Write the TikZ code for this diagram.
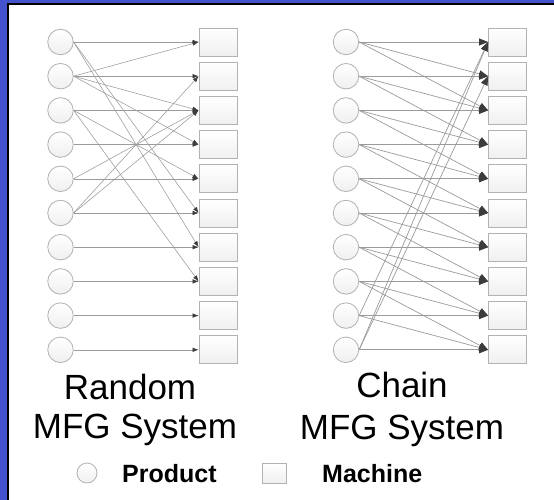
\documentclass[tikz,border=0pt]{standalone}
\usepackage{fontspec}
\setmainfont{Liberation Sans}
\usetikzlibrary{arrows.meta}

\definecolor{slideblue}{RGB}{68,82,206}
\definecolor{edgegray}{RGB}{155,155,155}
\definecolor{tipgray}{RGB}{60,60,60}

\tikzset{
  product/.style={circle, draw=gray!60, line width=0.8pt, top color=white,
    bottom color=gray!12, minimum size=25.5pt, inner sep=0pt},
  machine/.style={rectangle, draw=gray!60, line width=0.8pt, top color=white,
    bottom color=gray!12, minimum width=38pt, minimum height=28pt, inner sep=0pt},
  rndlink/.style={draw=edgegray, line width=0.55pt,
    -{Latex[length=6pt,width=4.5pt,color=tipgray]}},
  chnlink/.style={draw=edgegray, line width=0.7pt,
    -{Triangle[length=9pt,width=7pt,color=tipgray]}},
  title/.style={font=\fontsize{35}{40}\selectfont, inner sep=0pt},
  legend/.style={font=\fontsize{25}{30}\selectfont\bfseries, inner sep=0pt}
}

\begin{document}
\begin{tikzpicture}[x=1pt, y=-1pt]
  \useasboundingbox (0,0) rectangle (554,500);

  % Slide frame
  \fill[white] (0,0) rectangle (554,500);
  \fill[slideblue] (0,0) rectangle (554,3);
  \fill[slideblue] (0,0) rectangle (7,500);
  \draw[black, line width=2pt] (8,500) -- (8,4) -- (554,4);

  % Products and machines
  \foreach \i in {1,...,10} {
    \node[product] (rp\i) at (60.5, {42+34.2*(\i-1)}) {};
    \node[machine] (rm\i) at (218, {42+34.2*(\i-1)}) {};
    \node[product] (cp\i) at (346, {42+34.2*(\i-1)}) {};
    \node[machine] (cm\i) at (507.5, {42+34.2*(\i-1)}) {};
  }

  % Random system
  \foreach \a/\b in {1/1,1/6,1/7,2/1,2/2,2/3,2/4,3/3,3/5,3/8,4/4,5/3,5/5,
                     6/2,6/3,6/6,7/7,8/8,9/9,10/10}
    \draw[rndlink] (rp\a.east) -- (rm\b.west);

  % Chain system
  \foreach \a in {1,...,10} {
    \foreach \k in {0,1,2} {
      \pgfmathtruncatemacro\b{mod(\a+\k-1,10)+1}
      \draw[chnlink] (cp\a.east) -- (cm\b.west);
    }
  }

  % Titles
  \node[title, anchor=base] (rndtop) at (130,399) {Random};
  \node[title, anchor=base] (rndbot) at (135,438) {MFG System};
  \node[title, anchor=base] (chntop) at (402,397) {Chain};
  \node[title, anchor=base] (chnbot) at (402,439) {MFG System};

  % Legend
  \node[product, minimum size=20pt] (lgprod) at (87,473) {};
  \node[legend, anchor=base west] (lgprodtxt) at (122,482) {Product};
  \node[machine, minimum width=24pt, minimum height=20pt] (lgmach) at (274,473) {};
  \node[legend, anchor=base west] (lgmachtxt) at (322,482) {Machine};
\end{tikzpicture}
\end{document}
